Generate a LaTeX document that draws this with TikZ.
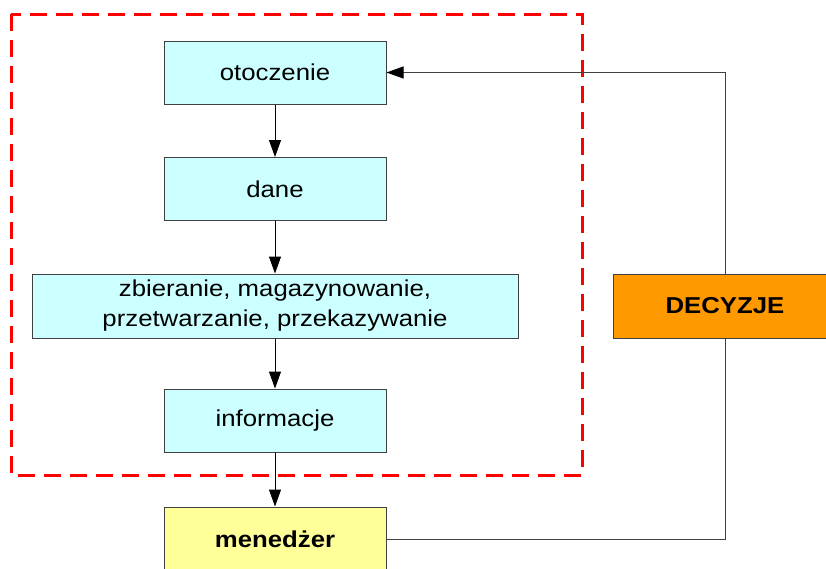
\documentclass[tikz,border=0pt]{standalone}
\usepackage{fontspec}
\setmainfont[FakeStretch=1.12]{Liberation Sans}
\usetikzlibrary{arrows.meta}

\definecolor{boxcyan}{HTML}{CCFFFF}
\definecolor{boxyellow}{HTML}{FFFF99}
\definecolor{boxorange}{HTML}{FF9900}
\definecolor{edgegray}{HTML}{404040}

\tikzset{
  blok/.style={draw=edgegray, line width=1pt, fill=boxcyan, minimum width=222pt,
    minimum height=63pt, inner sep=0pt, align=center,
    font=\fontsize{23}{30}\selectfont},
  strzalka/.style={-{Triangle[length=17pt, width=12pt, color=black]}, line width=1pt},
}

\begin{document}
\begin{tikzpicture}[x=1pt, y=-1pt]
    \useasboundingbox (0,0) rectangle (826,568);

    % ramka systemu informacyjnego
    \draw[red, line width=3pt, dash pattern=on 17pt off 9pt] (11,14) rectangle (582,475);

    \node[blok] (oto) at (275,72.5) {otoczenie};
    \node[blok] (dane) at (275,189) {dane};
    \node[blok, minimum width=486pt, minimum height=64pt] (proc) at (275,306)
        {zbieranie, magazynowanie,\\przetwarzanie, przekazywanie};
    \node[blok] (info) at (275,420.5) {informacje};

    \node[blok, fill=boxyellow, minimum height=64pt, font=\fontsize{23}{30}\selectfont\bfseries]
        (men) at (275,539) {mened\.zer};
    \node[blok, fill=boxorange, minimum width=224pt, minimum height=64pt,
        font=\fontsize{23}{30}\selectfont\bfseries] (dec) at (725,306) {DECYZJE};

    \draw[strzalka] (oto) -- (dane);
    \draw[strzalka] (dane) -- (proc);
    \draw[strzalka] (proc) -- (info);
    \draw[strzalka] (info) -- (men);

    % sprzezenie zwrotne
    \draw[edgegray, line width=1pt] (men.east) -| (dec.south);
    \draw[strzalka, edgegray] (dec.north) |- (oto.east);
\end{tikzpicture}
\end{document}
